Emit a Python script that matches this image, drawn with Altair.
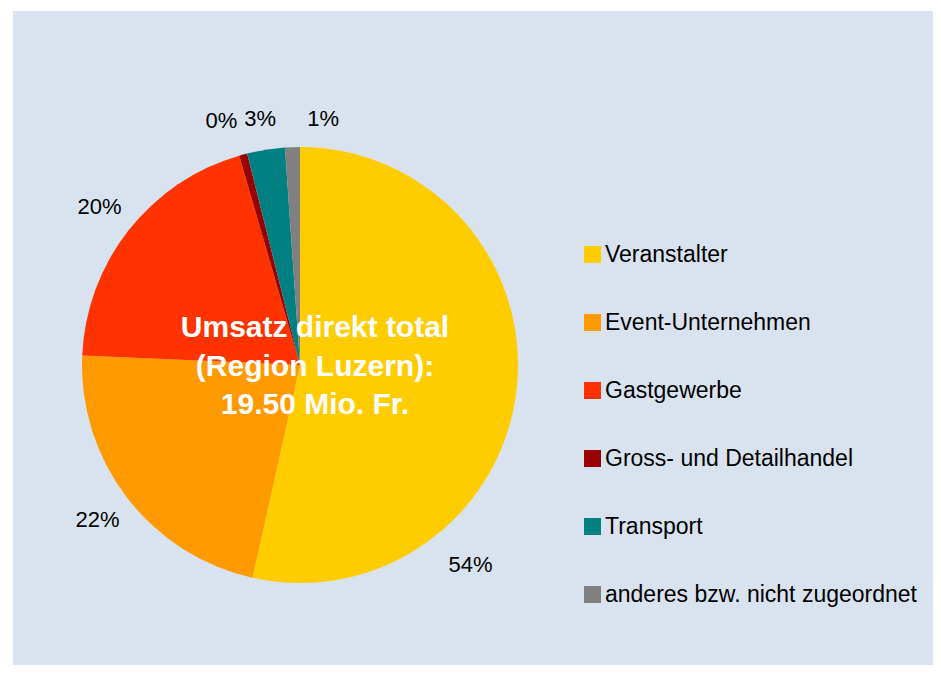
import math
import altair as alt
import pandas as pd

categories = ["Veranstalter", "Event-Unternehmen", "Gastgewerbe",
              "Gross- und Detailhandel", "Transport", "anderes bzw. nicht zugeordnet"]
shares = [53.5, 22.2, 19.8, 0.6, 2.8, 1.1]
share_labels = ["54%", "22%", "20%", "0%", "3%", "1%"]
colors = ["#ffcc00", "#ff9900", "#ff3300", "#990000", "#008080", "#808080"]
center_lines = ["Umsatz direkt total", "(Region Luzern):", "19.50 Mio. Fr."]

df = pd.DataFrame({"cat": categories, "share": shares,
                   "label": share_labels, "order": list(range(len(categories)))})

FONT = "Liberation Sans"
CX, CY, R = 287, 354, 218
theta_scale = alt.Scale(domain=[0, 1], range=[0, 2 * math.pi])

base = (
    alt.Chart(df)
    .transform_window(cum="sum(share)", sort=[alt.SortField("order")], frame=[None, 0])
    .transform_joinaggregate(total="sum(share)")
    .transform_calculate(
        f0="(datum.cum - datum.share) / datum.total",
        f1="datum.cum / datum.total",
        mid="(datum.cum - datum.share / 2) / datum.total",
    )
)

pie = base.mark_arc(outerRadius=R).encode(
    theta=alt.Theta("f0:Q", scale=theta_scale),
    theta2="f1:Q",
    x=alt.value(CX),
    y=alt.value(CY),
    color=alt.Color(
        "cat:N",
        sort=categories,
        scale=alt.Scale(domain=categories, range=colors),
        legend=alt.Legend(
            title=None, orient="none", legendX=568, legendY=232,
            symbolType="square", symbolSize=289, symbolStrokeWidth=0,
            labelFontSize=23, labelFont=FONT, labelColor="#000000",
            rowPadding=44, labelOffset=1, padding=0, labelLimit=400,
        ),
    ),
)


def label_layer(cats, dx=0, dy=0):
    return (
        base.transform_filter(alt.FieldOneOfPredicate(field="cat", oneOf=cats))
        .mark_text(radius=255, fontSize=22, font=FONT, color="#000000",
                   align="center", baseline="middle", dx=dx, dy=dy)
        .encode(
            theta=alt.Theta("mid:Q", scale=theta_scale),
            x=alt.value(CX),
            y=alt.value(CY),
            text="label:N",
        )
    )


labels_main = label_layer(["Event-Unternehmen", "Gastgewerbe"])
label_transport = label_layer(["Transport"], dy=6)
label_gross = label_layer(["Gross- und Detailhandel"], dx=-12, dy=2)
label_other = label_layer(["anderes bzw. nicht zugeordnet"], dx=32, dy=9)
label_big = label_layer(["Veranstalter"], dx=-83, dy=172)

center = alt.Chart(pd.DataFrame({"t": [0]})).mark_text(
    text=center_lines, fontSize=30, fontWeight="bold", font=FONT,
    color="#ffffff", lineHeight=38.5, align="center", baseline="middle",
).encode(x=alt.value(302), y=alt.value(317))

chart = (
    alt.layer(pie, labels_main, label_transport, label_gross, label_other, label_big, center)
    .properties(
        width=920, height=654,
        autosize=alt.AutoSizeParams(type="none"),
        padding={"left": 5, "top": 3, "right": 0, "bottom": 0},
        background="#ffffff",
    )
    .configure_view(fill="#d9e3ef", strokeWidth=0)
)

chart.save("out.html", embed_options={"renderer": "svg", "actions": False})
